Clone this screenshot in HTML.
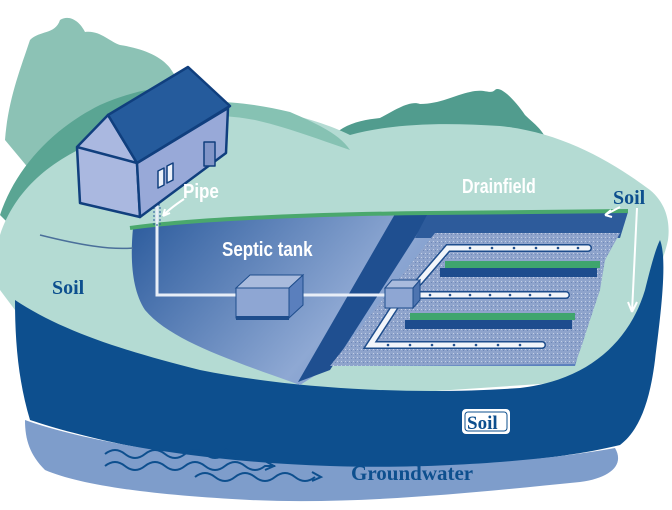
<!DOCTYPE html>
<html><head><meta charset="utf-8"><style>
html,body{margin:0;padding:0;background:#fff;width:672px;height:510px;overflow:hidden}
svg{display:block}
text{font-family:"Liberation Sans",sans-serif;font-weight:bold}
.s{font-family:"Liberation Serif",serif}
</style></head><body>
<svg width="672" height="510" viewBox="0 0 672 510">
<defs>
<linearGradient id="pit" x1="0" y1="0" x2="1" y2="0.3">
<stop offset="0" stop-color="#2a5a9c"/><stop offset="0.55" stop-color="#8ea8d3"/><stop offset="1" stop-color="#5a7fbd"/>
</linearGradient>
<pattern id="grav" width="4" height="4" patternUnits="userSpaceOnUse">
<rect width="4" height="4" fill="#8fa4cc"/><rect x="1" y="1" width="1" height="1" fill="#c4d0e6"/><rect x="3" y="2" width="1" height="1" fill="#6f88b8"/>
</pattern>
</defs>
<!-- trees left -->
<path d="M5,140 C8,100 20,70 30,40 C40,30 55,35 60,20 C70,14 80,22 85,32 C100,30 110,42 120,45 C140,48 160,55 170,68 L178,80 L120,110 L30,170 Z" fill="#8cc2b5"/>
<!-- dark green hill left -->
<path d="M0,215 C15,170 50,130 100,105 C130,92 160,85 185,88 L190,118 C140,125 90,150 40,190 L10,225 Z" fill="#5aa593"/>
<!-- right dark hill -->
<path d="M330,140 C340,125 360,120 380,118 C395,110 410,100 420,104 C440,104 455,95 470,92 C485,88 490,95 495,90 C500,85 515,100 525,115 C535,125 545,130 550,150 L480,160 L330,160 Z" fill="#519c8e"/>
<!-- light mint landscape -->
<path d="M0,235 C15,190 50,160 100,140 C140,122 180,110 220,108 C270,106 320,120 350,135 C390,124 440,122 500,126 C560,132 610,160 650,190 C668,205 670,225 668,240 C664,260 650,290 640,320 L600,380 L300,400 L100,360 L15,310 L0,290 Z" fill="#b4dbd3"/>
<!-- green band behind house -->
<path d="M185,102 C230,100 260,105 290,112 C320,125 340,135 350,150 C320,140 290,128 255,120 C230,115 205,115 185,118 Z" fill="#86c2b3"/>
<!-- navy soil band -->
<path d="M15,300 C60,330 120,350 200,370 C300,390 420,395 520,388 C590,380 630,340 645,290 C650,270 655,250 660,240 C668,260 660,320 655,360 C650,400 640,430 620,445 C560,460 450,470 330,468 C200,465 90,440 30,420 C18,380 15,340 15,300 Z" fill="#0d4f8e"/>
<!-- groundwater -->
<path d="M25,420 C80,440 200,462 330,466 C450,470 560,458 615,448 C625,465 610,478 580,482 C480,492 360,505 250,500 C150,495 80,485 45,470 C30,455 25,440 25,420 Z" fill="#7e9dcb"/>
<!-- pit -->
<path d="M133,228 C200,218 330,214 430,214 L625,212 L605,260 L575,366 L330,366 L300,385 C230,360 170,340 145,310 C132,290 130,260 133,228 Z" fill="url(#pit)"/>
<!-- dark diagonal strip -->
<path d="M395,214 L430,214 L330,370 L298,382 Z" fill="#1f4f90"/>
<!-- drainfield dark top -->
<path d="M428,213 L628,212 L620,238 L415,238 Z" fill="#2d5b9b"/>
<!-- gravel -->
<path d="M435,233 L620,233 L605,260 L600,290 L590,320 L582,345 L575,364 L330,366 Z" fill="url(#grav)"/>
<!-- grass strips -->
<rect x="445" y="261" width="155" height="7" fill="#3fa56e"/>
<rect x="440" y="268" width="157" height="9" fill="#1d4c8e"/>
<rect x="410" y="313" width="165" height="7" fill="#3fa56e"/>
<rect x="405" y="320" width="167" height="9" fill="#1d4c8e"/>
<!-- surface grass line -->
<path d="M130,228 C200,218 330,214 430,213 L628,211" stroke="#4aa86d" stroke-width="4" fill="none"/>
<!-- pipes -->
<g stroke="#1e4d8c" stroke-width="8" fill="none" stroke-linecap="round">
<path d="M588,248 L448,248 L418,283"/>
<path d="M566,295 L420,295"/>
<path d="M396,305 L370,345 L542,345"/>
</g>
<g stroke="#f2f5fa" stroke-width="5" fill="none" stroke-linecap="round">
<path d="M588,248 L448,248 L418,283"/>
<path d="M566,295 L420,295"/>
<path d="M396,305 L370,345 L542,345"/>
</g>
<g fill="#1e4d8c">
<circle cx="470" cy="248" r="1.3"/><circle cx="492" cy="248" r="1.3"/><circle cx="514" cy="248" r="1.3"/><circle cx="536" cy="248" r="1.3"/><circle cx="558" cy="248" r="1.3"/><circle cx="578" cy="248" r="1.3"/>
<circle cx="430" cy="295" r="1.3"/><circle cx="450" cy="295" r="1.3"/><circle cx="470" cy="295" r="1.3"/><circle cx="490" cy="295" r="1.3"/><circle cx="510" cy="295" r="1.3"/><circle cx="530" cy="295" r="1.3"/><circle cx="550" cy="295" r="1.3"/>
<circle cx="388" cy="345" r="1.3"/><circle cx="410" cy="345" r="1.3"/><circle cx="432" cy="345" r="1.3"/><circle cx="454" cy="345" r="1.3"/><circle cx="476" cy="345" r="1.3"/><circle cx="498" cy="345" r="1.3"/><circle cx="520" cy="345" r="1.3"/>
</g>
<!-- house-to-tank pipe -->
<path d="M157,205 L157,295 L240,295 M300,295 L387,295" stroke="#e8eef7" stroke-width="3" fill="none"/>
<rect x="154" y="205" width="6" height="20" fill="none" stroke="#2a5a9c" stroke-width="1" stroke-dasharray="2,2"/>
<!-- distribution box -->
<path d="M385,288 L392,280 L420,280 L413,288 Z" fill="#a9bbdd" stroke="#1e4d8c"/>
<path d="M413,288 L420,280 L420,300 L413,308 Z" fill="#4d74b0" stroke="#1e4d8c"/>
<rect x="385" y="288" width="28" height="20" fill="#8ea6d3" stroke="#1e4d8c"/>
<!-- septic tank -->
<path d="M236,288 L250,275 L303,275 L289,288 Z" fill="#a9bbdd" stroke="#1e4d8c"/>
<path d="M289,288 L303,275 L303,305 L289,318 Z" fill="#5a7fbd" stroke="#1e4d8c"/>
<rect x="236" y="288" width="53" height="30" fill="#8ea6d3" stroke="#1e4d8c"/>
<rect x="236" y="316" width="53" height="4" fill="#1e4d8c"/>
<!-- ground line left -->
<path d="M40,235 C80,245 110,250 133,248" stroke="#4a6f9a" stroke-width="1.5" fill="none"/>
<!-- house -->
<g stroke="#103f7e" stroke-width="2.5" stroke-linejoin="round">
<path d="M77,147 L108,115 L137,163 L140,217 L80,203 Z" fill="#aab8e0"/>
<path d="M137,163 L228,108 L226,153 L140,217 Z" fill="#98a9d8"/>
<path d="M108,115 L188,67 L230,106 L137,163 Z" fill="#255b9c"/>
<path d="M77,147 L137,163" fill="none"/>
<rect x="204" y="142" width="11" height="24" fill="#8195c8" stroke-width="1.5"/>
<path d="M158,171 L164,168 L164,185 L158,188 Z M167,166 L173,163 L173,180 L167,183 Z" fill="#eef2fa" stroke-width="1.5"/>
</g>
<!-- arrows -->
<g stroke="#fff" stroke-width="2" fill="none">
<path d="M184,199 C175,205 168,210 163,216 M163,216 L165,209 M163,216 L170,213"/>
<path d="M620,207 L605,215 M605,215 L611,210 M605,215 L612,217"/>
<path d="M637,208 L632,312 M632,312 L628,302 M632,312 L637,302"/>
</g>
<!-- labels -->
<text x="183" y="198" font-size="20" fill="#fff" transform="translate(183 198) scale(0.85 1) translate(-183 -198)">Pipe</text>
<text x="222" y="256" font-size="20" fill="#fff" transform="translate(222 256) scale(0.85 1) translate(-222 -256)">Septic tank</text>
<text x="462" y="193" font-size="20" fill="#fff" transform="translate(462 193) scale(0.8 1) translate(-462 -193)">Drainfield</text>
<text x="613" y="204" font-size="20" fill="#0d4f8e" class="s">Soil</text>
<text x="52" y="294" font-size="20" fill="#0d4f8e" class="s">Soil</text>
<rect x="462" y="409" width="48" height="25" rx="4" fill="#fff"/>
<rect x="465" y="412" width="42" height="19" rx="3" fill="none" stroke="#0d4f8e" stroke-width="1"/>
<text x="467" y="429" font-size="19" fill="#0d4f8e" class="s">Soil</text>
<text x="351" y="480" font-size="21" fill="#0d4f8e" class="s">Groundwater</text>
<!-- water arrows -->
<g stroke="#0d4f8e" stroke-width="2" fill="none">
<path d="M105,454 q10,-8 20,0 t20,0 t20,0 t20,0 t20,0 t20,0 l10,0 M225,449 l9,5 l-9,4"/>
<path d="M105,466 q10,-8 20,0 t20,0 t20,0 t20,0 t20,0 t20,0 t20,0 t20,0 l10,0 M265,461 l9,5 l-9,4"/>
<path d="M195,477 q10,-8 20,0 t20,0 t20,0 t20,0 t20,0 t20,0 M312,472 l9,5 l-9,4"/>
</g>
</svg>
</body></html>
